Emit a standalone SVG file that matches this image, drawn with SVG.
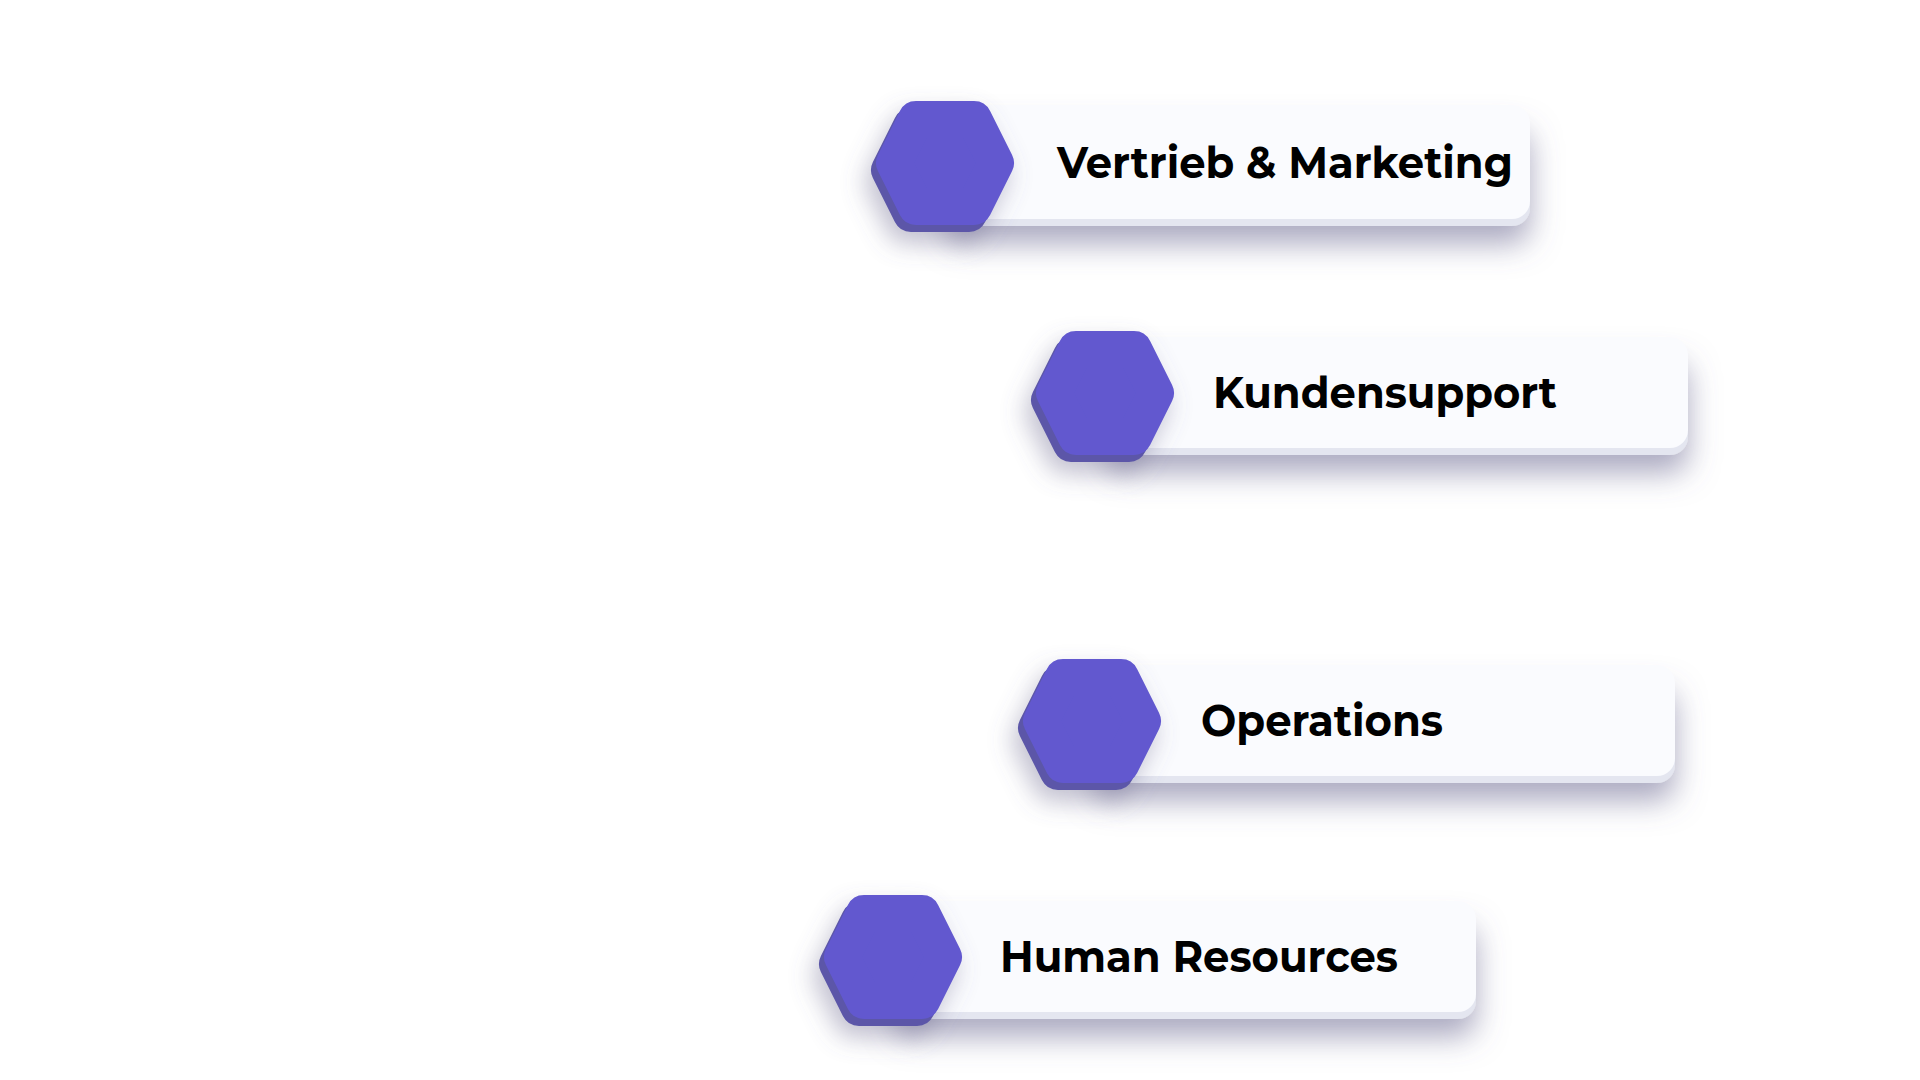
<svg xmlns="http://www.w3.org/2000/svg" width="1920" height="1080" viewBox="0 0 1920 1080">
<style>
.hex{fill:#6259CF;stroke:#6259CF;stroke-width:36;stroke-linejoin:round}
.hexs{fill:#5B57A8;stroke:#5B57A8;stroke-width:36;stroke-linejoin:round}
.card{fill:#FAFBFE}
.strip{fill:#E4E6F0}
.lbl{font-family:"Montserrat","Inter","Noto Sans",sans-serif;font-weight:700;font-size:44px;fill:#000}
</style>
<defs>
<path id="hx" d="M-29,-44 L29,-44 L51,0 L29,44 L-29,44 L-51,0 Z"/>
<filter id="sh" x="-20%" y="-60%" width="140%" height="260%">
<feDropShadow dx="0" dy="18" stdDeviation="15" flood-color="#68648F" flood-opacity="0.55"/>
</filter>
<filter id="hsh" x="-60%" y="-60%" width="220%" height="220%">
<feDropShadow dx="-6" dy="12" stdDeviation="12" flood-color="#66638A" flood-opacity="0.4"/>
</filter>
</defs>
<rect width="1920" height="1080" fill="#FFFFFF"/>
<g id="connectors"></g>
<g id="node-vertrieb">
<rect class="strip" x="945" y="112" width="585" height="114" rx="18" filter="url(#sh)"/>
<rect class="card" x="945" y="105" width="585" height="114" rx="18"/>
<g filter="url(#hsh)">
<use href="#hx" class="hexs" transform="translate(940,170)"/>
<use href="#hx" class="hex" transform="translate(945,163)"/>
</g>
<text class="lbl" x="1057" y="178" textLength="456" lengthAdjust="spacingAndGlyphs">Vertrieb &amp; Marketing</text>
</g>
<g id="node-kundensupport">
<rect class="strip" x="1105" y="344" width="583" height="111" rx="18" filter="url(#sh)"/>
<rect class="card" x="1105" y="337" width="583" height="111" rx="18"/>
<g filter="url(#hsh)">
<use href="#hx" class="hexs" transform="translate(1100,400)"/>
<use href="#hx" class="hex" transform="translate(1105,393)"/>
</g>
<text class="lbl" x="1213" y="408" textLength="344" lengthAdjust="spacingAndGlyphs">Kundensupport</text>
</g>
<g id="node-operations">
<rect class="strip" x="1092" y="672" width="583" height="111" rx="18" filter="url(#sh)"/>
<rect class="card" x="1092" y="665" width="583" height="111" rx="18"/>
<g filter="url(#hsh)">
<use href="#hx" class="hexs" transform="translate(1087,728)"/>
<use href="#hx" class="hex" transform="translate(1092,721)"/>
</g>
<text class="lbl" x="1201" y="736" textLength="242" lengthAdjust="spacingAndGlyphs">Operations</text>
</g>
<g id="node-hr">
<rect class="strip" x="893" y="908" width="583" height="111" rx="18" filter="url(#sh)"/>
<rect class="card" x="893" y="901" width="583" height="111" rx="18"/>
<g filter="url(#hsh)">
<use href="#hx" class="hexs" transform="translate(888,964)"/>
<use href="#hx" class="hex" transform="translate(893,957)"/>
</g>
<text class="lbl" x="1000" y="972" textLength="398" lengthAdjust="spacingAndGlyphs">Human Resources</text>
</g>
</svg>
